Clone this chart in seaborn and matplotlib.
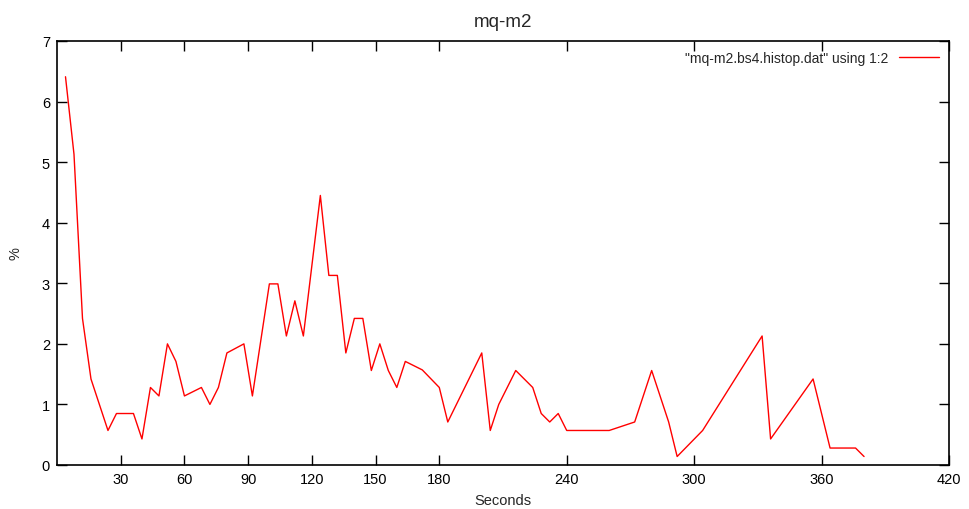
import matplotlib
matplotlib.use("Agg")
import matplotlib.pyplot as plt
import seaborn as sns
import pandas as pd

seconds = [4, 8, 12, 16, 24, 28, 36, 40, 44, 48, 52, 56, 60, 68, 72, 76, 80, 88, 92,
           100, 104, 108, 112, 116, 124, 128, 132, 136, 140, 144, 148, 152, 156, 160,
           164, 172, 180, 184, 200, 204, 208, 216, 224, 228, 232, 236, 240, 260, 272,
           280, 288, 292, 304, 332, 336, 356, 364, 376, 380]
percent = [6.41, 5.13, 2.42, 1.42, 0.57, 0.85, 0.85, 0.43, 1.28, 1.14, 2.0, 1.71, 1.14,
           1.28, 1.0, 1.28, 1.85, 2.0, 1.14,
           2.99, 2.99, 2.13, 2.71, 2.13, 4.45, 3.13, 3.13, 1.85, 2.42, 2.42, 1.56, 2.0,
           1.56, 1.28, 1.71, 1.57, 1.28, 0.71, 1.85, 0.57, 1.0, 1.56, 1.28, 0.85, 0.71,
           0.85, 0.57, 0.57, 0.71, 1.56, 0.71, 0.14, 0.57, 2.13, 0.43, 1.42, 0.28, 0.28,
           0.14]
x_ticks = [30, 60, 90, 120, 150, 180, 240, 300, 360, 420]
y_ticks = [0, 1, 2, 3, 4, 5, 6, 7]
series_label = '"mq-m2.bs4.histop.dat" using 1:2'

df = pd.DataFrame({"Seconds": seconds, "%": percent})

sns.set_theme(style="white")
plt.rcParams["font.family"] = ["Liberation Sans", "DejaVu Sans"]

fig = plt.figure(figsize=(9.69, 5.10), dpi=100)
ax = fig.add_axes([57 / 969, 1 - 466 / 510, 892 / 969, 424 / 510])

sns.lineplot(data=df, x="Seconds", y="%", ax=ax, color="#ff0000", linewidth=1.0,
             label=series_label, legend=True)

ax.set_xlim(0, 420)
ax.set_ylim(0, 7)
ax.set_xticks(x_ticks)
ax.set_yticks(y_ticks)
ax.tick_params(direction="in", length=7, width=1, colors="black", labelsize=10.5,
               top=True, right=True, bottom=True, left=True, pad=5)
for s in ax.spines.values():
    s.set_color("black")
    s.set_linewidth(1.2)
ax.set_xlabel("Seconds", fontsize=10.5, labelpad=5)
ax.set_ylabel("%", fontsize=10.5, labelpad=14)
ax.set_title("mq-m2", fontsize=13.5, pad=11)

leg = ax.legend(loc="upper right", frameon=False, fontsize=10, handlelength=2.9,
                handletextpad=0.8, markerfirst=False, borderaxespad=0.3,
                bbox_to_anchor=(1.0, 1.0))

fig.savefig("out.png", dpi=100)
